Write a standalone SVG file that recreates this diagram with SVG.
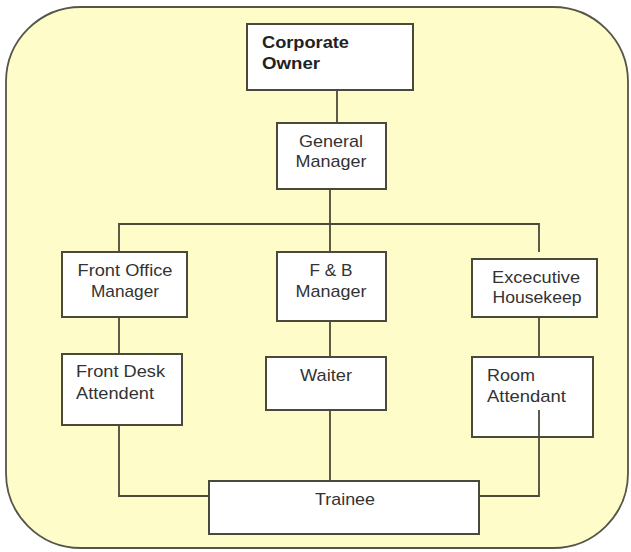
<svg xmlns="http://www.w3.org/2000/svg" width="631" height="552" viewBox="0 0 631 552">
<style>
.bg{fill:#fefdca;stroke:#555548;stroke-width:1.8}
.box{fill:#ffffff;stroke:#4a4a3c;stroke-width:2}
.ln{fill:none;stroke:#4a4a3c;stroke-width:1.8}
text{font-family:"Liberation Sans",Arial,sans-serif;font-size:17px;fill:#333333}
.c{text-anchor:middle}
.b{font-weight:bold;fill:#222222}
</style>
<rect class="bg" x="6" y="7" width="622" height="541" rx="75" ry="75"/>
<g id="connectors">
<path class="ln" d="M337 90V123"/>
<path class="ln" d="M330 189V224"/>
<path class="ln" d="M119 252V224H539V252"/>
<path class="ln" d="M330 224V252"/>
<path class="ln" d="M119 317V354"/>
<path class="ln" d="M330 321V357"/>
<path class="ln" d="M539 317V357"/>
<path class="ln" d="M119 425V496H209"/>
<path class="ln" d="M330 410V481"/>
</g>
<g id="corporate-owner">
<rect class="box" x="247" y="24" width="166" height="66"/>
<text class="b" x="262" y="48" textLength="87" lengthAdjust="spacingAndGlyphs">Corporate</text>
<text class="b" x="262" y="69" textLength="58" lengthAdjust="spacingAndGlyphs">Owner</text>
</g>
<g id="general-manager">
<rect class="box" x="277" y="123" width="109" height="66"/>
<text class="c" x="331" y="147" textLength="64" lengthAdjust="spacingAndGlyphs">General</text>
<text class="c" x="331" y="167" textLength="71" lengthAdjust="spacingAndGlyphs">Manager</text>
</g>
<g id="front-office-manager">
<rect class="box" x="62" y="252" width="125" height="65"/>
<text class="c" x="125" y="276" textLength="95" lengthAdjust="spacingAndGlyphs">Front Office</text>
<text class="c" x="125" y="297" textLength="68" lengthAdjust="spacingAndGlyphs">Manager</text>
</g>
<g id="fb-manager">
<rect class="box" x="277" y="252" width="109" height="69"/>
<text class="c" x="331" y="276" textLength="43" lengthAdjust="spacingAndGlyphs">F &amp; B</text>
<text class="c" x="331" y="297" textLength="71" lengthAdjust="spacingAndGlyphs">Manager</text>
</g>
<g id="executive-housekeep">
<rect class="box" x="472" y="259" width="125" height="58"/>
<text class="c" x="536" y="283" textLength="88" lengthAdjust="spacingAndGlyphs">Excecutive</text>
<text class="c" x="537" y="303" textLength="89" lengthAdjust="spacingAndGlyphs">Housekeep</text>
</g>
<g id="front-desk-attendent">
<rect class="box" x="62" y="354" width="120" height="71"/>
<text x="76" y="377" textLength="89" lengthAdjust="spacingAndGlyphs">Front Desk</text>
<text x="76" y="399" textLength="78" lengthAdjust="spacingAndGlyphs">Attendent</text>
</g>
<g id="waiter">
<rect class="box" x="266" y="357" width="120" height="53"/>
<text class="c" x="326" y="381" textLength="52" lengthAdjust="spacingAndGlyphs">Waiter</text>
</g>
<g id="room-attendant">
<rect class="box" x="472" y="357" width="121" height="80"/>
<text x="487" y="381" textLength="48" lengthAdjust="spacingAndGlyphs">Room</text>
<text x="487" y="402" textLength="79" lengthAdjust="spacingAndGlyphs">Attendant</text>
</g>
<g id="trainee">
<rect class="box" x="209" y="481" width="270" height="53"/>
<text class="c" x="345" y="505" textLength="60" lengthAdjust="spacingAndGlyphs">Trainee</text>
</g>
<g id="connectors-over">
<path class="ln" d="M539 410V496H479"/>
</g>
</svg>
